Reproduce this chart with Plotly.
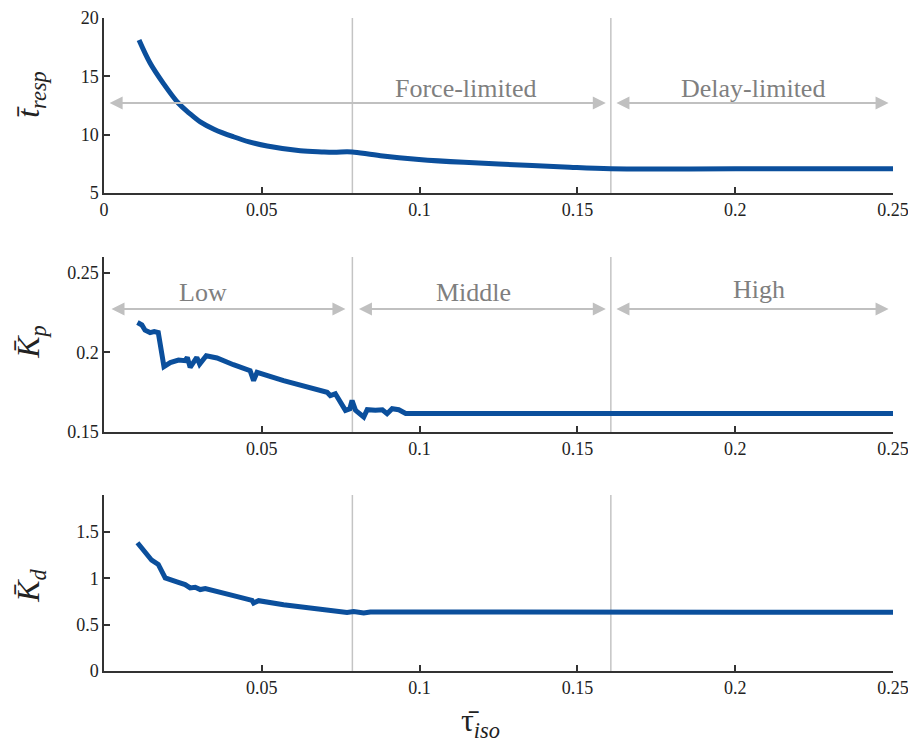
import plotly.graph_objects as go

# ---------------- data ----------------
tau_resp = [0.0111, 0.0146, 0.0188, 0.0236, 0.0270, 0.0305, 0.0350, 0.0410, 0.0460, 0.0517,
            0.0622, 0.0690, 0.0728, 0.0770, 0.0787, 0.0876, 0.0998, 0.1141, 0.1299, 0.1458,
            0.1606, 0.2000, 0.2500]
t_resp = [18.11, 16.14, 14.40, 12.69, 11.85, 11.10, 10.45, 9.82, 9.38, 9.03,
          8.62, 8.52, 8.49, 8.54, 8.52, 8.20, 7.88, 7.63, 7.43, 7.23,
          7.07, 7.07, 7.07]

tau_kp = [0.0106, 0.0120, 0.0130, 0.0146, 0.0159, 0.0172, 0.0190, 0.0210, 0.0236, 0.0257,
          0.0264, 0.0273, 0.0294, 0.0303, 0.0324, 0.0358, 0.0410, 0.0463, 0.0474, 0.0485,
          0.0569, 0.0686, 0.0707, 0.0717, 0.0733, 0.0765, 0.0779, 0.0786, 0.0797, 0.0823,
          0.0834, 0.0860, 0.0882, 0.0897, 0.0913, 0.0934, 0.0956, 0.1200, 0.1606, 0.2000, 0.2500]
kp = [0.2188, 0.2173, 0.2140, 0.2125, 0.2131, 0.2125, 0.1911, 0.1936, 0.1952, 0.1948,
      0.1969, 0.1906, 0.1969, 0.1927, 0.1979, 0.1965, 0.1923, 0.1886, 0.1823, 0.1875,
      0.1823, 0.1755, 0.1750, 0.1729, 0.1740, 0.1636, 0.1646, 0.1698, 0.1636, 0.1594,
      0.1640, 0.1636, 0.1640, 0.1615, 0.1646, 0.1640, 0.1617, 0.1617, 0.1617, 0.1617, 0.1617]

tau_kd = [0.0106, 0.0136, 0.0151, 0.0172, 0.0194, 0.0231, 0.0257, 0.0273, 0.0289, 0.0305,
          0.0321, 0.0410, 0.0469, 0.0474, 0.0490, 0.0569, 0.0675, 0.0728, 0.0770, 0.0791,
          0.0823, 0.0844, 0.1000, 0.1606, 0.2000, 0.2500]
kd = [1.385, 1.258, 1.196, 1.150, 1.005, 0.962, 0.933, 0.897, 0.904, 0.879,
      0.889, 0.813, 0.763, 0.734, 0.759, 0.716, 0.672, 0.661, 0.632, 0.643,
      0.626, 0.637, 0.635, 0.635, 0.635, 0.635]

boundaries = [0.0787, 0.1606]

x_ticks_top = [0, 0.05, 0.1, 0.15, 0.2, 0.25]
x_ticktext_top = ["0", "0.05", "0.1", "0.15", "0.2", "0.25"]
x_ticks = [0.05, 0.1, 0.15, 0.2, 0.25]
x_ticktext = ["0.05", "0.1", "0.15", "0.2", "0.25"]
y1_ticks = [5, 10, 15, 20]
y2_ticks = [0.15, 0.2, 0.25]
y2_ticktext = ["0.15", "0.2", "0.25"]
y3_ticks = [0, 0.5, 1, 1.5]
y3_ticktext = ["0", "0.5", "1", "1.5"]

# regions: (label, x_start, x_end, label_x)
regions_top = [("Force-limited", 0.0013, 0.159, 0.1146),
               ("Delay-limited", 0.1619, 0.2486, 0.2057)]
regions_mid = [("Low", 0.0019, 0.0765, 0.0314),
               ("Middle", 0.0803, 0.159, 0.1171),
               ("High", 0.1619, 0.2486, 0.2076)]

# ---------------- figure ----------------
LINE = "#0b4f9c"
SERIF = "Liberation Serif, Times New Roman, serif"
AX = "#333333"
GRAY_LINE = "#c4c4c4"
ARROW = "#c0c0c0"
LABEL = "#7f7f7f"

fig = go.Figure()
fig.add_trace(go.Scatter(x=tau_resp, y=t_resp, mode="lines",
                         line=dict(color=LINE, width=5, shape="spline", smoothing=1.0),
                         xaxis="x", yaxis="y", showlegend=False))
fig.add_trace(go.Scatter(x=tau_kp, y=kp, mode="lines", line=dict(color=LINE, width=5),
                         xaxis="x2", yaxis="y2", showlegend=False))
fig.add_trace(go.Scatter(x=tau_kd, y=kd, mode="lines", line=dict(color=LINE, width=5),
                         xaxis="x3", yaxis="y3", showlegend=False))

tickfont = dict(family=SERIF, size=18, color="#222222")
common_x = dict(range=[0, 0.25], showline=True, linecolor=AX, linewidth=1.5,
                ticks="inside", ticklen=6, tickcolor=AX, tickwidth=1.5,
                showgrid=False, zeroline=False, tickfont=tickfont,
                automargin=False, ticklabeloverflow="allow")
common_y = dict(showline=True, linecolor=AX, linewidth=1.5,
                ticks="inside", ticklen=6, tickcolor=AX, tickwidth=1.5,
                showgrid=False, zeroline=False, tickfont=tickfont,
                automargin=False, ticklabeloverflow="allow")

H = 653.0
dom1 = [478 / H, 1.0]
dom2 = [239 / H, 414 / H]
dom3 = [0.0, 176 / H]

fig.update_layout(
    width=908, height=742,
    margin=dict(l=104, r=15, t=18, b=71),
    paper_bgcolor="white", plot_bgcolor="white",
    xaxis=dict(common_x, anchor="y", tickvals=x_ticks_top, ticktext=x_ticktext_top),
    yaxis=dict(common_y, domain=dom1, anchor="x", range=[5, 20], tickvals=y1_ticks),
    xaxis2=dict(common_x, anchor="y2", tickvals=x_ticks, ticktext=x_ticktext),
    yaxis2=dict(common_y, domain=dom2, anchor="x2", range=[0.15, 0.26],
                tickvals=y2_ticks, ticktext=y2_ticktext),
    xaxis3=dict(common_x, anchor="y3", tickvals=x_ticks, ticktext=x_ticktext),
    yaxis3=dict(common_y, domain=dom3, anchor="x3", range=[0, 1.9],
                tickvals=y3_ticks, ticktext=y3_ticktext),
)

shapes = []
for xr, yr in [("x", "y domain"), ("x2", "y2 domain"), ("x3", "y3 domain")]:
    for b in boundaries:
        shapes.append(dict(type="line", xref=xr, yref=yr, x0=b, x1=b, y0=0, y1=1,
                           line=dict(color=GRAY_LINE, width=1.5), layer="below"))
fig.update_layout(shapes=shapes)

ann = []
def arrow(xr, yr, x0, x1, yv):
    ann.append(dict(x=x1, y=yv, ax=x0, ay=yv, xref=xr, yref=yr, axref=xr, ayref=yr,
                    showarrow=True, arrowside="end+start", arrowhead=2, startarrowhead=2,
                    arrowsize=1.3, startarrowsize=1.3, arrowwidth=2, arrowcolor=ARROW, text="",
                    font=dict(size=12)))

for lab, x0, x1, lx in regions_top:
    arrow("x", "y", x0, x1, 12.71)
    ann.append(dict(x=lx, y=13.95, xref="x", yref="y", text=lab, showarrow=False,
                    font=dict(family=SERIF, size=26, color=LABEL), yanchor="middle"))
for lab, x0, x1, lx in regions_mid:
    arrow("x2", "y2", x0, x1, 0.2273)
    ann.append(dict(x=lx, y=0.2380 if lab != "High" else 0.2398, xref="x2", yref="y2",
                    text=lab, showarrow=False,
                    font=dict(family=SERIF, size=26, color=LABEL), yanchor="middle"))

title_font = dict(family=SERIF, size=32, color="#222222")
def ytitle(text, ymid):
    ann.append(dict(x=-0.094, y=ymid, xref="paper", yref="paper", text=text, textangle=-90,
                    showarrow=False, font=title_font, xanchor="center", yanchor="middle"))

ytitle("<i>t\u0304</i><sub><i>resp</i></sub>", (671 - 94) / H)
ytitle("<i>K\u0304</i><sub><i>p</i></sub>", (671 - 342) / H)
ytitle("<i>K\u0304</i><sub><i>d</i></sub>", (671 - 586) / H)

ann.append(dict(x=(480 - 104) / 789.0, y=-(722 - 671) / H, xref="paper", yref="paper",
                text="\u03c4\u0304<sub><i>iso</i></sub>", showarrow=False,
                font=title_font, xanchor="center", yanchor="middle"))

fig.update_layout(annotations=ann)
fig.write_html("out.html", config={"displayModeBar": False},
               post_script="document.body.style.margin='0';document.body.style.overflow='hidden';")
